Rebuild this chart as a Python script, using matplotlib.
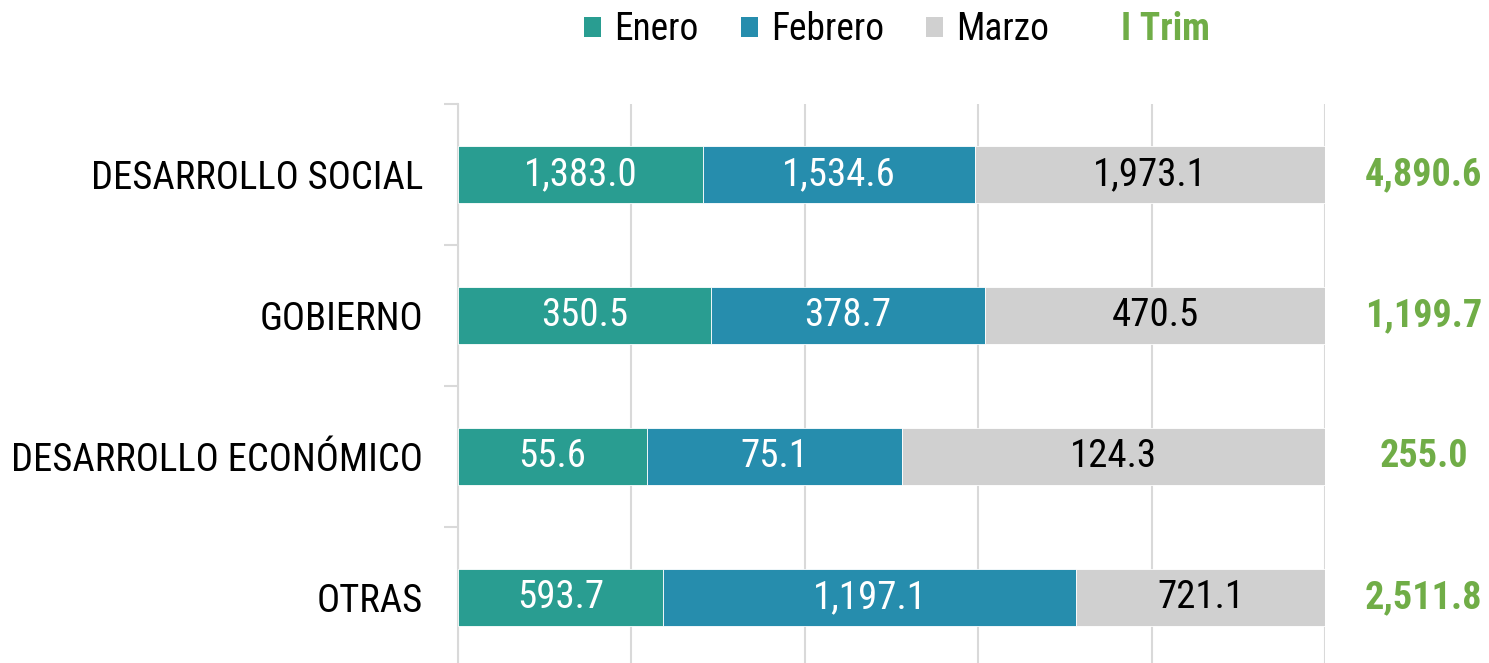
import matplotlib
matplotlib.use("Agg")
import matplotlib.font_manager as fm
import matplotlib.pyplot as plt
from matplotlib.patches import Patch
import numpy as np

categories = ["DESARROLLO SOCIAL", "GOBIERNO", "DESARROLLO ECONÓMICO", "OTRAS"]
series_names = ["Enero", "Febrero", "Marzo"]
enero = [1383.0, 350.5, 55.6, 593.7]
febrero = [1534.6, 378.7, 75.1, 1197.1]
marzo = [1973.1, 470.5, 124.3, 721.1]
totals = [4890.6, 1199.7, 255.0, 2511.8]
total_label = "I Trim"

colors = ["#299D91", "#268DAD", "#D0D0D0"]
text_colors = ["white", "white", "black"]
green = "#70AD47"

CANDIDATES = ("Liberation Sans Narrow", "Roboto Condensed", "Open Sans Condensed",
              "Liberation Sans", "DejaVu Sans")


def pick_font():
    available = {f.name for f in fm.fontManager.ttflist}
    for name in CANDIDATES:
        if name in available:
            return name
    return "DejaVu Sans"


font = pick_font()
plt.rcParams["font.family"] = [font, "DejaVu Sans"]

fig = plt.figure(figsize=(14.89, 6.63), dpi=100)
ax = fig.add_axes([458 / 1489, 1 - 668 / 663, 867 / 1489, 564 / 663])

data = np.array([enero, febrero, marzo])
sums = data.sum(axis=0)
pct = data / sums * 100
y = np.arange(len(categories))

left = np.zeros(len(categories))
handles = []
for i, name in enumerate(series_names):
    bars = ax.barh(y, pct[i], left=left, height=0.4, color=colors[i],
                   edgecolor="white", linewidth=0.6, zorder=3)
    for j, b in enumerate(bars):
        ax.text(left[j] + pct[i][j] / 2, y[j], f"{data[i][j]:,.1f}",
                ha="center", va="center", fontsize=28, color=text_colors[i],
                zorder=4)
    left += pct[i]
    handles.append(Patch(facecolor=colors[i], edgecolor="none"))

# totals of the quarter, outside the bars
for j, t in enumerate(totals):
    ax.text(111.4, y[j], f"{t:,.1f}", ha="center", va="center", fontsize=27.5,
            fontweight="bold", color=green, clip_on=False)

ax.set_xlim(0, 100)
ax.set_ylim(3.5, -0.5)
ax.set_xticks(np.arange(0, 101, 20))
ax.xaxis.grid(True, color="#D9D9D9", linewidth=1.5, zorder=0)
ax.tick_params(axis="x", length=0, labelbottom=False)
ax.set_yticks(y)
ax.set_yticklabels(categories, fontsize=27.8)
ax.set_yticks(np.arange(-0.5, 4, 1), minor=True)
ax.tick_params(axis="y", which="major", length=0, pad=25)
ax.tick_params(axis="y", which="minor", length=10, width=1.5, color="#D9D9D9")
for s in ("top", "right", "bottom"):
    ax.spines[s].set_visible(False)
ax.spines["left"].set_color("#D9D9D9")
ax.spines["left"].set_linewidth(1.5)

handles.append(Patch(facecolor="none", edgecolor="none"))
leg = fig.legend(handles, series_names + [total_label], ncol=4,
                 loc="center", bbox_to_anchor=(897 / 1489, 1 - 30 / 663),
                 frameon=False, fontsize=27, handlelength=0.45, handleheight=0.45,
                 handletextpad=0.35, columnspacing=1.12)
leg.get_texts()[-1].set_color(green)
leg.get_texts()[-1].set_fontweight("bold")

fig.savefig("out.png", dpi=100, facecolor="white")
